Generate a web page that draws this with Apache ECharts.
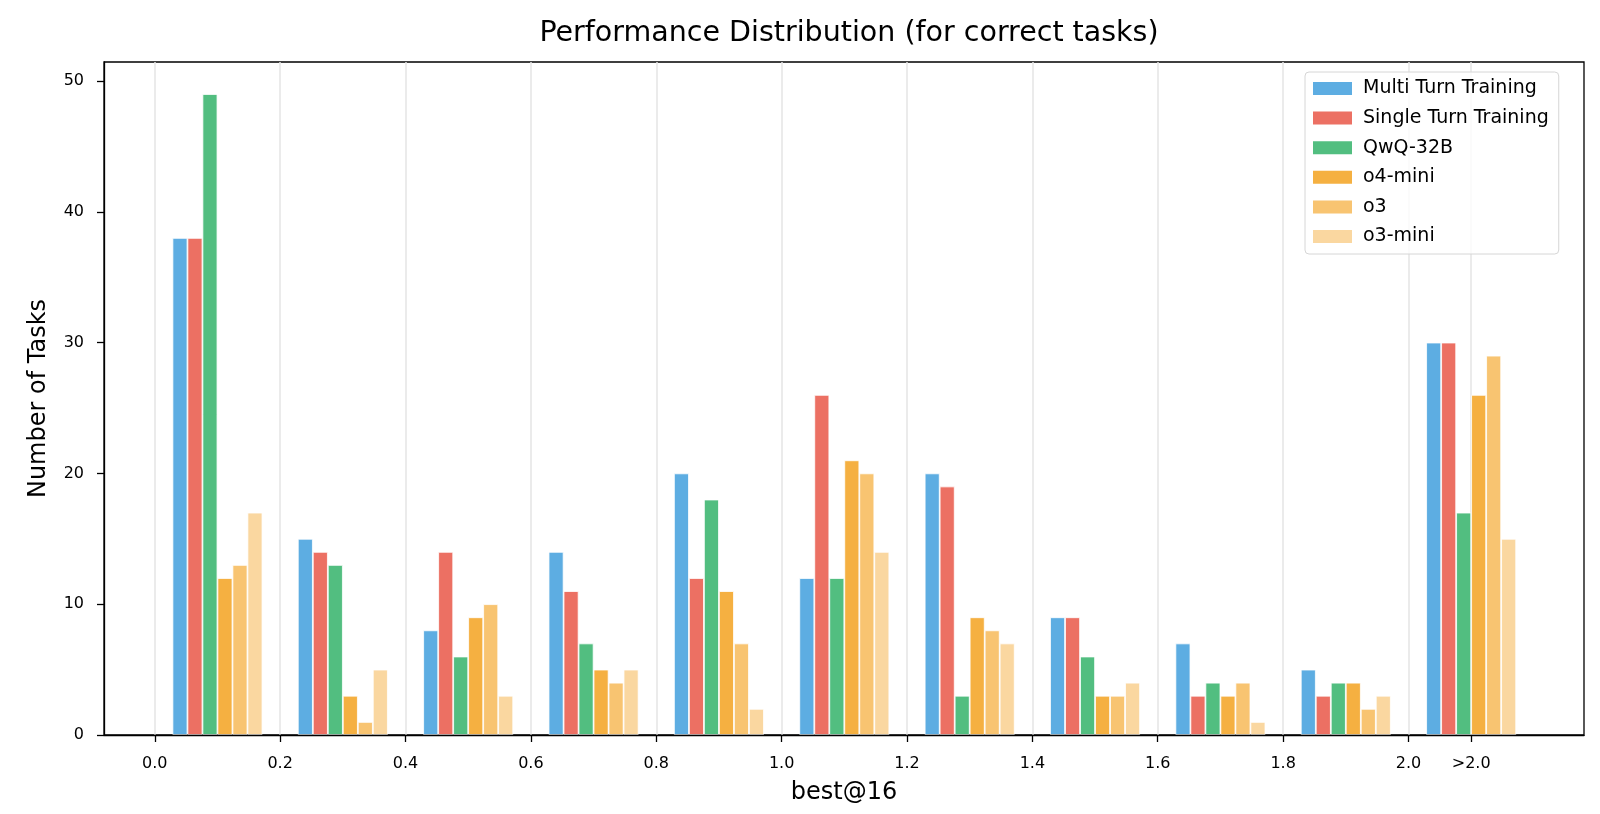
<!DOCTYPE html>
<html>
<head>
<meta charset="utf-8">
<script src="https://cdn.jsdelivr.net/npm/echarts@6/dist/echarts.min.js"></script>
<style>
  html, body { margin: 0; padding: 0; background: #fff; }
  #chart { width: 1600px; height: 814px; }
</style>
</head>
<body>
<div id="chart"></div>
<script>
// ---- data ----
const binCenters = [0.1, 0.3, 0.5, 0.7, 0.9, 1.1, 1.3, 1.5, 1.7, 1.9, 2.1];
const seriesNames = ['Multi Turn Training', 'Single Turn Training', 'QwQ-32B', 'o4-mini', 'o3', 'o3-mini'];
const multiTurn  = [38, 15,  8, 14, 20, 12, 20, 9, 7, 5, 30];
const singleTurn = [38, 14, 14, 11, 12, 26, 19, 9, 3, 3, 30];
const qwq32b     = [49, 13,  6,  7, 18, 12,  3, 6, 4, 4, 17];
const o4mini     = [12,  3,  9,  5, 11, 21,  9, 3, 3, 4, 26];
const o3         = [13,  1, 10,  4,  7, 20,  8, 3, 4, 2, 29];
const o3mini     = [17,  5,  3,  5,  2, 14,  7, 4, 1, 3, 15];
const xTickValues = [0.0, 0.2, 0.4, 0.6, 0.8, 1.0, 1.2, 1.4, 1.6, 1.8, 2.0, 2.1];
const xTickLabels = ['0.0', '0.2', '0.4', '0.6', '0.8', '1.0', '1.2', '1.4', '1.6', '1.8', '2.0', '>2.0'];
const yTickValues = [0, 10, 20, 30, 40, 50];

const colors = ['#5DADE2', '#EC7063', '#52BE80', '#F5B041', '#F8C471', '#FAD7A0'];
const allValues = [multiTurn, singleTurn, qwq32b, o4mini, o3, o3mini];

const FONT = 'DejaVu Sans';
const X_MIN = -0.081, X_MAX = 2.28;
const chart = echarts.init(document.getElementById('chart'), null, { renderer: 'canvas' });

const series = seriesNames.map((name, i) => ({
  name: name,
  type: 'bar',
  xAxisIndex: 0,
  barWidth: 15,
  barGap: '0%',
  z: 2,
  data: binCenters.map((x, j) => [x, allValues[i][j]]),
  itemStyle: { color: colors[i], borderColor: '#ffffff', borderWidth: 0.8 },
  emphasis: { disabled: true }
}));

const option = {
  animation: false,
  backgroundColor: '#ffffff',
  color: colors,
  textStyle: { fontFamily: FONT },
  title: {
    text: 'Performance Distribution (for correct tasks)',
    left: 844,
    top: 14,
    textAlign: 'center',
    textStyle: { fontFamily: FONT, fontSize: 28.5, fontWeight: 'normal', color: '#000' }
  },
  legend: {
    orient: 'vertical',
    left: 1305,
    top: 72,
    itemWidth: 39,
    itemHeight: 13,
    itemGap: 10.6,
    itemStyle: { borderWidth: 0 },
    icon: 'rect',
    padding: [7, 10, 8, 8],
    backgroundColor: 'rgba(255,255,255,0.8)',
    borderColor: '#d6d6d6',
    borderWidth: 1,
    borderRadius: 4,
    textStyle: { fontFamily: FONT, fontSize: 19, lineHeight: 19, color: '#000', padding: [0, 0, 0, 6] },
    data: seriesNames
  },
  grid: {
    left: 104, right: 16, top: 62, bottom: 79,
    show: true, borderColor: '#000', borderWidth: 1.3,
    containLabel: false
  },
  xAxis: [
    {
      type: 'value',
      min: X_MIN,
      max: X_MAX,
      z: 5,
      name: 'best@16',
      nameLocation: 'middle',
      nameGap: 46,
      nameTextStyle: { fontFamily: FONT, fontSize: 24, color: '#000' },
      axisLine: { show: true, onZero: false, lineStyle: { color: '#000', width: 1.3 } },
      axisTick: { show: true, length: 7, customValues: xTickValues, lineStyle: { color: '#000', width: 1.3 } },
      axisLabel: {
        customValues: xTickValues,
        margin: 21,
        fontFamily: FONT, fontSize: 16, color: '#000',
        formatter: function (v) {
          for (let k = 0; k < xTickValues.length; k++) {
            if (Math.abs(xTickValues[k] - v) < 1e-6) return xTickLabels[k];
          }
          return '';
        }
      },
      splitLine: { show: false }
    },
    {
      type: 'value',
      position: 'bottom',
      min: X_MIN,
      max: X_MAX,
      z: 0,
      axisLine: { show: false },
      axisTick: { show: false, customValues: xTickValues },
      axisLabel: { show: false, customValues: xTickValues },
      splitLine: { show: true, lineStyle: { color: '#e5e5e5', width: 1.5 } }
    }
  ],
  yAxis: {
    type: 'value',
    min: 0,
    max: 51.45,
    z: 5,
    name: 'Number of Tasks',
    nameLocation: 'middle',
    nameGap: 53,
    nameRotate: 90,
    nameTextStyle: { fontFamily: FONT, fontSize: 24, color: '#000' },
    axisLine: { show: true, onZero: false, lineStyle: { color: '#000', width: 1.3 } },
    axisTick: { show: true, length: 7, customValues: yTickValues, lineStyle: { color: '#000', width: 1.3 } },
    axisLabel: { customValues: yTickValues, margin: 20, fontFamily: FONT, fontSize: 16, color: '#000' },
    splitLine: { show: false }
  },
  series: series
};

chart.setOption(option);
</script>
</body>
</html>
